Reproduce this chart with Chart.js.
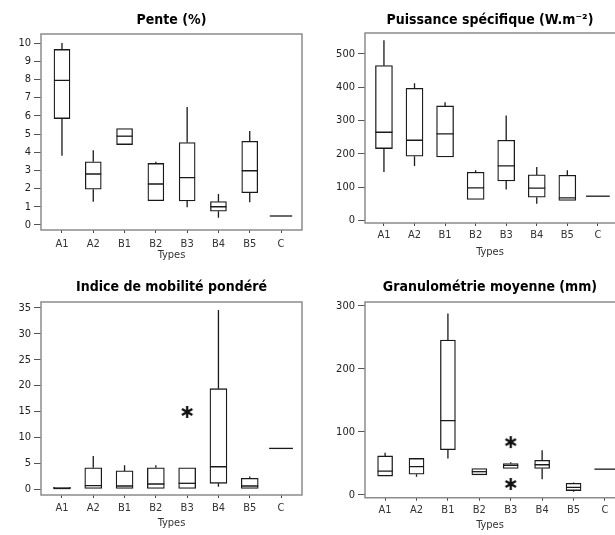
<!DOCTYPE html>
<html>
<head>
<meta charset="utf-8">
<script src="https://cdn.jsdelivr.net/npm/chart.js@4.4.0/dist/chart.umd.min.js"></script>
<style>
body { margin: 0; background: #fff; overflow: hidden; width: 615px; height: 535px; position: relative; }
canvas { position: absolute; }
</style>
</head>
<body>
<canvas id="pente" width="305" height="265" style="left:0;top:0"></canvas>
<canvas id="puissance" width="310" height="265" style="left:305px;top:0"></canvas>
<canvas id="indice" width="305" height="270" style="left:0;top:265px"></canvas>
<canvas id="granulo" width="310" height="270" style="left:305px;top:265px"></canvas>
<script>
const types = ['A1', 'A2', 'B1', 'B2', 'B3', 'B4', 'B5', 'C'];

// Pente (%)
const penteMin = [3.8, 1.28, 4.42, 1.33, 0.97, 0.40, 1.24, 0.49];
const penteQ1  = [5.85, 1.96, 4.42, 1.33, 1.32, 0.75, 1.77, 0.49];
const penteMed = [7.95, 2.8, 4.88, 2.25, 2.6, 1.0, 2.98, 0.49];
const penteQ3  = [9.65, 3.47, 5.3, 3.38, 4.53, 1.28, 4.6, 0.49];
const penteMax = [10.0, 4.1, 5.3, 3.47, 6.49, 1.70, 5.16, 0.49];
const penteTicks = [0, 1, 2, 3, 4, 5, 6, 7, 8, 9, 10];

// Puissance spécifique (W.m-2)
const puisMin = [146, 164, 191, 63, 93, 50, 60, 73];
const puisQ1  = [216, 193, 191, 63, 119, 70, 60, 73];
const puisMed = [265, 241, 260, 98, 164, 97, 68, 73];
const puisQ3  = [465, 397, 344, 145, 241, 137, 136, 73];
const puisMax = [541, 412, 355, 151, 315, 161, 151, 73];
const puisTicks = [0, 100, 200, 300, 400, 500];

// Indice de mobilité pondéré
const indMin = [0, 0, 0, 0, 0, 0.45, 0, 7.85];
const indQ1  = [0, 0, 0, 0, 0, 1.1, 0, 7.85];
const indMed = [0.1, 0.64, 0.58, 0.97, 1.1, 4.3, 0.58, 7.85];
const indQ3  = [0.3, 4.1, 3.5, 4.1, 4.1, 19.4, 2.06, 7.85];
const indMax = [0.3, 6.4, 4.6, 4.6, 4.1, 34.6, 2.4, 7.85];
const indTicks = [0, 5, 10, 15, 20, 25, 30, 35];
const indOutTypes = ['B3'];
const indOutValues = [14.9];

// Granulométrie moyenne (mm)
const granMin = [30, 29, 58, 32, 42, 25, 5, 41];
const granQ1  = [30, 33, 72, 32, 42, 42, 7, 41];
const granMed = [38, 45, 118, 37, 47, 48, 12, 41];
const granQ3  = [62, 58, 246, 42, 50, 55, 18.6, 41];
const granMax = [67, 58, 288, 42, 52, 71, 20, 41];
const granTicks = [0, 100, 200, 300];
const granOutTypes = ['B3', 'B3'];
const granOutValues = [84, 17.5];

const FONT = '"Liberation Sans Narrow", "DejaVu Sans Condensed", "Roboto Condensed", "Liberation Sans", sans-serif';
Chart.defaults.font.family = FONT;
Chart.defaults.color = '#222';

// six-armed asterisk used for the outliers
const asterisk = document.createElement('canvas');
asterisk.width = 14;
asterisk.height = 14;
(function () {
    const g = asterisk.getContext('2d');
    g.strokeStyle = '#111';
    g.lineWidth = 2.3;
    g.lineCap = 'butt';
    g.beginPath();
    [90, 30, 150].forEach(deg => {
        const r = deg * Math.PI / 180;
        const dx = Math.cos(r) * 6, dy = Math.sin(r) * 6;
        g.moveTo(7 - dx, 7 - dy);
        g.lineTo(7 + dx, 7 + dy);
    });
    g.stroke();
})();

// whiskers, medians and the grey frame round the plot
const boxPlugin = {
    id: 'boxStats',
    afterDatasetsDraw(chart, args, opts) {
        const ctx = chart.ctx;
        const x = chart.scales.x, y = chart.scales.y;
        ctx.save();
        ctx.strokeStyle = '#1a1a1a';
        ctx.lineWidth = 1.3;
        opts.med.forEach((m, i) => {
            const cx = x.getPixelForValue(i);
            const half = opts.q1[i] === opts.q3[i] ? opts.width * 0.7 : opts.width / 2;
            ctx.beginPath();
            ctx.moveTo(cx, y.getPixelForValue(opts.q3[i]));
            ctx.lineTo(cx, y.getPixelForValue(opts.max[i]));
            ctx.moveTo(cx, y.getPixelForValue(opts.q1[i]));
            ctx.lineTo(cx, y.getPixelForValue(opts.min[i]));
            const my = y.getPixelForValue(m);
            ctx.moveTo(cx - half, my);
            ctx.lineTo(cx + half, my);
            ctx.stroke();
        });
        const a = chart.chartArea;
        ctx.strokeStyle = '#8c8c8c';
        ctx.lineWidth = 1.5;
        ctx.beginPath();
        ctx.moveTo(a.right, a.top);
        ctx.lineTo(a.left, a.top);
        ctx.lineTo(a.left, a.bottom);
        ctx.lineTo(a.right, a.bottom);
        if (!opts.openRight) ctx.closePath();
        ctx.stroke();
        ctx.restore();
    }
};

function makeBoxChart(id, c) {
    const datasets = [{
        type: 'bar',
        data: types.map((t, i) => ({ x: i, y: [c.q1[i], c.q3[i]] })),
        backgroundColor: '#fff',
        borderColor: '#1a1a1a',
        borderWidth: 1.3,
        borderSkipped: false,
        barThickness: c.boxWidth
    }];
    if (c.outTypes) {
        datasets.push({
            type: 'scatter',
            data: c.outTypes.map((t, i) => ({ x: types.indexOf(t), y: c.outValues[i] })),
            pointStyle: asterisk,
            radius: 7
        });
    }
    return new Chart(document.getElementById(id), {
        type: 'bar',
        data: { datasets: datasets },
        plugins: [boxPlugin],
        options: {
            responsive: false,
            animation: false,
            layout: { autoPadding: false, padding: { left: 0, right: c.padRight, top: 0, bottom: 0 } },
            plugins: {
                legend: { display: false },
                tooltip: { enabled: false },
                title: {
                    display: true,
                    text: c.title,
                    fullSize: false,
                    color: '#000',
                    font: { size: 14, weight: 'bold' },
                    padding: { top: c.titleTop, bottom: c.titleBottom }
                },
                boxStats: {
                    min: c.min, q1: c.q1, med: c.med, q3: c.q3, max: c.max,
                    width: c.boxWidth, openRight: c.openRight
                }
            },
            scales: {
                x: {
                    type: 'linear',
                    min: c.xMin,
                    max: c.xMax,
                    offset: false,
                    afterBuildTicks: s => { s.ticks = types.map((t, i) => ({ value: i })); },
                    afterFit: s => { s.height = c.xHeight; },
                    ticks: {
                        callback: v => types[v],
                        autoSkip: false,
                        maxRotation: 0,
                        padding: c.xLabelPad,
                        font: { size: 11 },
                        color: '#333'
                    },
                    grid: { drawOnChartArea: false, tickLength: 3, color: '#444', offset: false },
                    border: { display: false },
                    title: {
                        display: true,
                        text: 'Types',
                        color: '#333',
                        font: { size: 11 },
                        padding: { top: 0, bottom: c.xTitlePad }
                    }
                },
                y: {
                    min: c.yMin,
                    max: c.yMax,
                    afterBuildTicks: s => { s.ticks = c.yTicks.map(v => ({ value: v })); },
                    afterFit: s => { s.width = c.yWidth; },
                    ticks: { padding: 3, font: { size: 11 }, color: '#222' },
                    grid: { drawOnChartArea: false, tickLength: 7, color: '#555' },
                    border: { display: false }
                }
            }
        }
    });
}

makeBoxChart('pente', {
    title: 'Pente (%)',
    min: penteMin, q1: penteQ1, med: penteMed, q3: penteQ3, max: penteMax,
    yTicks: penteTicks, yMin: -0.28, yMax: 10.5, xMin: -0.67, xMax: 7.67,
    boxWidth: 16, yWidth: 41, padRight: 3, openRight: false,
    titleTop: 11.6, titleBottom: 5.6, xHeight: 35, xLabelPad: 4.5, xTitlePad: 3.4
});

makeBoxChart('puissance', {
    title: 'Puissance spécifique (W.m⁻²)',
    min: puisMin, q1: puisQ1, med: puisMed, q3: puisQ3, max: puisMax,
    yTicks: puisTicks, yMin: -7.5, yMax: 563, xMin: -0.62, xMax: 7.56,
    boxWidth: 17, yWidth: 60, padRight: 0, openRight: true,
    titleTop: 11.6, titleBottom: 4.6, xHeight: 42, xLabelPad: 2.5, xTitlePad: 6.4
});

makeBoxChart('indice', {
    title: 'Indice de mobilité pondéré',
    min: indMin, q1: indQ1, med: indMed, q3: indQ3, max: indMax,
    outTypes: indOutTypes, outValues: indOutValues,
    yTicks: indTicks, yMin: -1.16, yMax: 36.16, xMin: -0.67, xMax: 7.67,
    boxWidth: 17, yWidth: 41, padRight: 3, openRight: false,
    titleTop: 13.6, titleBottom: 6.6, xHeight: 40, xLabelPad: 4, xTitlePad: 5.4
});

makeBoxChart('granulo', {
    title: 'Granulométrie moyenne (mm)',
    min: granMin, q1: granQ1, med: granMed, q3: granQ3, max: granMax,
    outTypes: granOutTypes, outValues: granOutValues,
    yTicks: granTicks, yMin: -4.3, yMax: 306.3, xMin: -0.64, xMax: 7.32,
    boxWidth: 15, yWidth: 60, padRight: 0, openRight: true,
    titleTop: 13.6, titleBottom: 6.6, xHeight: 37.3, xLabelPad: 2.8, xTitlePad: 3.4
});
</script>
</body>
</html>
